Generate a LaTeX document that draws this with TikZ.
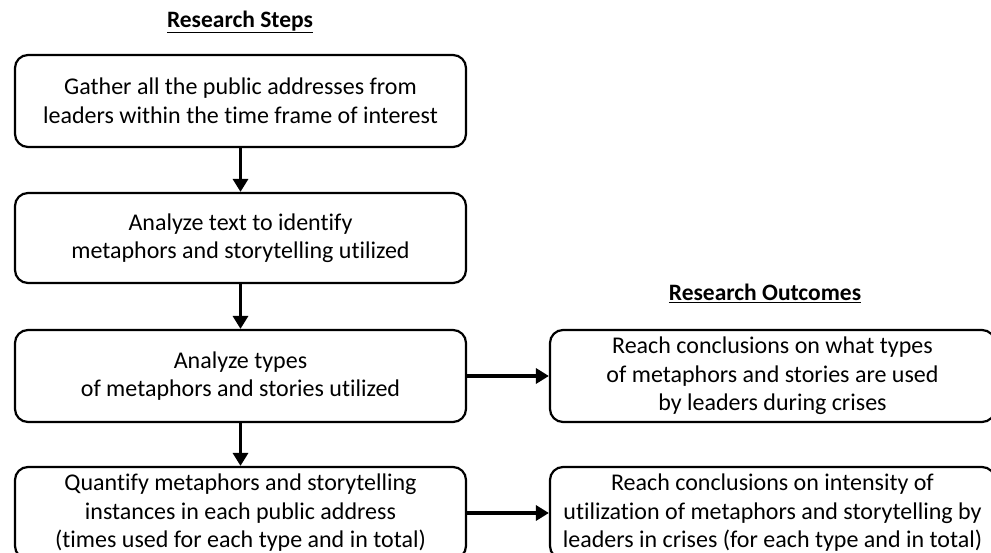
\documentclass[tikz,border=0pt]{standalone}
\usepackage{fontspec}
\setmainfont{Carlito}[Ligatures=NoCommon]
\usetikzlibrary{arrows.meta}
\tikzset{
  stepbox/.style={draw, line width=2.2pt, rounded corners=13pt, align=center, inner sep=0pt,
    font=\fontsize{24}{28.5}\selectfont},
  header/.style={font=\fontsize{23.5}{26}\selectfont\bfseries},
  flow/.style={line width=3.8pt, -{Triangle[length=13pt,width=15pt]}}
}
\begin{document}
\begin{tikzpicture}[x=1pt,y=-1pt]
\useasboundingbox (0,0) rectangle (991,553);
\clip (0,0) rectangle (991,553);
\node[header] (hs) at (240,22) {\underline{Research Steps}};
\node[header] (ho) at (765,293) {\underline{Research Outcomes}};
\node[stepbox, minimum width=451pt, minimum height=92pt] (b1) at (240.5,101)
  {Gather all the public addresses from\\leaders within the time frame of interest};
\node[stepbox, minimum width=451pt, minimum height=90pt] (b2) at (240.5,238)
  {Analyze text to identify\\metaphors and storytelling utilized};
\node[stepbox, minimum width=451pt, minimum height=92pt] (b3) at (240.5,376)
  {Analyze types\\of metaphors and stories utilized};
\node[stepbox, minimum width=451pt, minimum height=92pt] (b4) at (240.5,513)
  {Quantify metaphors and storytelling\\instances in each public address\\(times used for each type and in total)};
\node[stepbox, minimum width=445pt, minimum height=92pt] (r1) at (772.5,376)
  {Reach conclusions on what types\\of metaphors and stories are used\\by leaders during crises};
\node[stepbox, minimum width=445pt, minimum height=92pt] (r2) at (772.5,513)
  {Reach conclusions on intensity of\\utilization of metaphors and storytelling by\\leaders in crises (for each type and in total)};
\draw[flow] (b1) -- (b2);
\draw[flow] (b2) -- (b3);
\draw[flow] (b3) -- (b4);
\draw[flow] (b3) -- (r1);
\draw[flow] (b4) -- (r2);
\end{tikzpicture}
\end{document}
